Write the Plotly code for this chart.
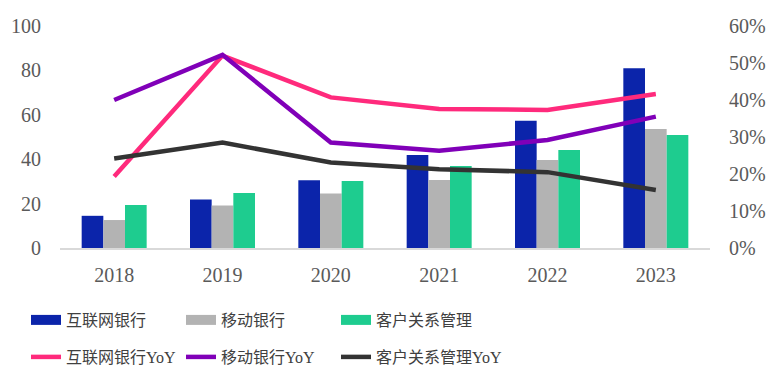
import plotly.graph_objects as go

years = ["2018", "2019", "2020", "2021", "2022", "2023"]
internet_bank = [14.5, 21.9, 30.5, 41.9, 57.3, 81.0]
mobile_bank = [12.6, 19.1, 24.5, 30.6, 39.6, 53.6]
crm = [19.4, 24.8, 30.2, 36.9, 44.1, 50.9]
internet_yoy = [19.3, 52.0, 40.7, 37.6, 37.3, 41.6]
mobile_yoy = [40.0, 52.2, 28.5, 26.3, 29.2, 35.5]
crm_yoy = [24.2, 28.5, 23.1, 21.3, 20.5, 15.7]

names_bar = ["互联网银行", "移动银行", "客户关系管理"]
names_line = ["互联网银行YoY", "移动银行YoY", "客户关系管理YoY"]
bar_colors = ["#0B24AA", "#B3B3B3", "#1ECC8F"]
line_colors = ["#FF2A7C", "#8000B8", "#333333"]

W, H = 773, 375
col_x = [18, 173, 328]
row_y = [312, 349]
legend_ids = [["legend", "legend2", "legend3"], ["legend4", "legend5", "legend6"]]

fig = go.Figure()
for name, vals, col in zip(names_bar, [internet_bank, mobile_bank, crm], bar_colors):
    fig.add_trace(go.Bar(x=years, y=vals, name=name, marker_color=col,
                         marker_line_width=0, showlegend=False))
for i, (name, vals, col) in enumerate(zip(names_line, [internet_yoy, mobile_yoy, crm_yoy], line_colors)):
    fig.add_trace(go.Scatter(x=years, y=vals, name=name, mode="lines", yaxis="y2",
                             line=dict(color=col, width=4.5), showlegend=True,
                             legend=legend_ids[1][i]))
# legend-only entries for bars (wide rectangles)
for i, (name, col) in enumerate(zip(names_bar, bar_colors)):
    fig.add_trace(go.Scatter(x=[None], y=[None], name=name, mode="lines",
                             line=dict(color=col, width=10), showlegend=True,
                             legend=legend_ids[0][i]))

tickfont = dict(family="Liberation Serif", size=20, color="#5A5A5A")
legfont = dict(family="Liberation Serif, Noto Sans CJK SC", size=16, color="#404040")

legends = {}
for r in range(2):
    for c in range(3):
        legends[legend_ids[r][c]] = dict(
            orientation="h", xref="container", yref="container",
            x=col_x[c] / W, y=1 - row_y[r] / H, yanchor="middle", xanchor="left",
            font=legfont, itemwidth=30, bgcolor="rgba(0,0,0,0)")

fig.update_layout(
    width=W, height=H,
    margin=dict(l=52, r=71, t=18, b=135, autoexpand=False),
    plot_bgcolor="white", paper_bgcolor="white",
    barmode="group", bargap=0.4, bargroupgap=0,
    xaxis=dict(type="category", showgrid=False, showline=True, linecolor="#D9D9D9",
               linewidth=2, tickfont=tickfont, ticks="", ticklabelstandoff=8),
    yaxis=dict(range=[0, 100], dtick=20, showgrid=False, zeroline=False,
               tickfont=tickfont, ticklabelstandoff=18),
    yaxis2=dict(range=[0, 60], dtick=10, overlaying="y", side="right", showgrid=False,
                zeroline=False, ticksuffix="%", tickfont=tickfont, ticklabelstandoff=18),
    **legends,
)

fig.write_html("out.html")
